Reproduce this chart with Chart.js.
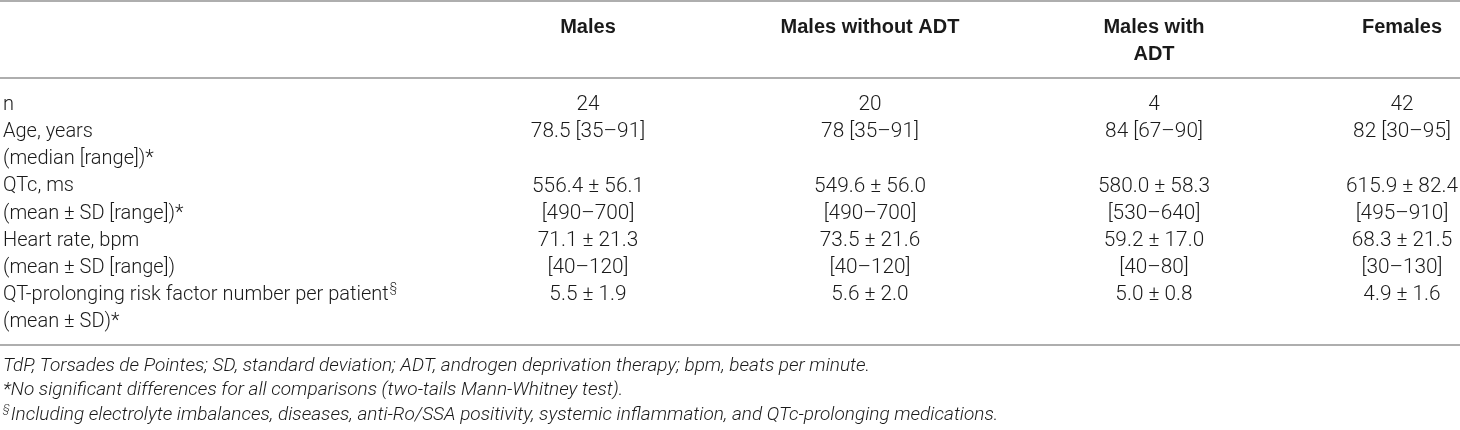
<!DOCTYPE html>
<html>
<head>
<meta charset="utf-8">
<script src="https://cdn.jsdelivr.net/npm/chart.js@4.4.1/dist/chart.umd.min.js"></script>
<style>
  html, body { margin: 0; padding: 0; background: #fff; }
  canvas { display: block; }
</style>
</head>
<body>
<canvas id="tablaQT" width="1460" height="430"></canvas>
<script>
// encabezados de columna (\n = segunda línea)
const columnas = ['Males', 'Males without ADT', 'Males with\nADT', 'Females'];

// filas del cuerpo
const filas = [
    'n',
    'Age, years',
    '(median [range])*',
    'QTc, ms',
    '(mean ± SD [range])*',
    'Heart rate, bpm',
    '(mean ± SD [range])',
    'QT-prolonging risk factor number per patient§',
    '(mean ± SD)*'
];

const males = ['24', '78.5 [35–91]', '', '556.4 ± 56.1', '[490–700]', '71.1 ± 21.3', '[40–120]', '5.5 ± 1.9', ''];
const malesSinADT = ['20', '78 [35–91]', '', '549.6 ± 56.0', '[490–700]', '73.5 ± 21.6', '[40–120]', '5.6 ± 2.0', ''];
const malesConADT = ['4', '84 [67–90]', '', '580.0 ± 58.3', '[530–640]', '59.2 ± 17.0', '[40–80]', '5.0 ± 0.8', ''];
const females = ['42', '82 [30–95]', '', '615.9 ± 82.4', '[495–910]', '68.3 ± 21.5', '[30–130]', '4.9 ± 1.6', ''];

const notas = [
    'TdP, Torsades de Pointes; SD, standard deviation; ADT, androgen deprivation therapy; bpm, beats per minute.',
    '*No significant differences for all comparisons (two-tails Mann-Whitney test).',
    '§Including electrolyte imbalances, diseases, anti-Ro/SSA positivity, systemic inflammation, and QTc-prolonging medications.'
];

const valores = [males, malesSinADT, malesConADT, females];
const centros = [588, 870, 1154, 1402]; // posicion x de cada columna (escala x en px)

const fuenteCuerpo = '"Roboto", "Liberation Sans", sans-serif';
const fuenteTitulo = '"Liberation Sans", Arial, sans-serif';
const colorTexto = '#1a1a1a';
const colorLinea = '#939393';

// escribe texto con un "§" final o inicial como superindice
function escribir(ctx, texto, x, y, fuente) {
    const sup = fuente.replace(/([\d.]+)px/, (m, n) => (n * 0.6).toFixed(1) + 'px');
    const tam = parseFloat(fuente.match(/([\d.]+)px/)[1]);
    if (texto.startsWith('§')) {
        ctx.font = sup;
        ctx.fillText('§', x, y - tam * 0.33);
        const w = ctx.measureText('§').width;
        ctx.font = fuente;
        ctx.fillText(texto.slice(1), x + w + 1, y);
    } else if (texto.endsWith('§')) {
        ctx.font = fuente;
        const base = texto.slice(0, -1);
        ctx.fillText(base, x, y);
        const w = ctx.measureText(base).width;
        ctx.font = sup;
        ctx.fillText('§', x + w + 1, y - tam * 0.33);
    } else {
        ctx.font = fuente;
        ctx.fillText(texto, x, y);
    }
}

const pluginTabla = {
    id: 'pluginTabla',
    afterDatasetsDraw(chart) {
        const ctx = chart.ctx;
        const area = chart.chartArea;
        const xs = chart.scales.x;
        ctx.save();
        ctx.fillStyle = colorTexto;
        ctx.textBaseline = 'middle';

        // lineas horizontales
        ctx.strokeStyle = colorLinea;
        ctx.lineWidth = 1.6;
        [area.top - 104, area.top - 27, area.bottom + 23].forEach(y => {
            ctx.beginPath();
            ctx.moveTo(0, y);
            ctx.lineTo(chart.width, y);
            ctx.stroke();
        });

        // encabezados
        ctx.textAlign = 'center';
        columnas.forEach((col, i) => {
            col.split('\n').forEach((linea, j) => {
                escribir(ctx, linea, xs.getPixelForValue(centros[i]), area.top - 78 + j * 27,
                    `bold 20px ${fuenteTitulo}`);
            });
        });

        // celdas: cada punto del dataset marca la posicion de su texto
        chart.data.datasets.forEach((ds, i) => {
            const meta = chart.getDatasetMeta(i);
            ctx.textAlign = ds.alinear;
            meta.data.forEach((el, j) => {
                const t = ds.data[j].texto;
                if (t) escribir(ctx, t, el.x, el.y, `300 ${ds.tam}px ${fuenteCuerpo}`);
            });
        });

        // notas al pie
        ctx.textAlign = 'left';
        notas.forEach((nota, k) => {
            escribir(ctx, nota, 3, area.bottom + 44 + k * 24.5, `italic 300 19px ${fuenteCuerpo}`);
        });
        ctx.restore();
    }
};

const datasets = [{
    label: 'Variable',
    alinear: 'left',
    tam: 20,
    data: filas.map((f, j) => ({ x: 3, y: j, texto: f }))
}].concat(valores.map((serie, i) => ({
    label: columnas[i],
    alinear: 'center',
    tam: 20.8,
    data: serie.map((v, j) => ({ x: centros[i], y: j, texto: v }))
})));

new Chart(document.getElementById('tablaQT'), {
    type: 'scatter',
    data: { datasets: datasets },
    options: {
        responsive: false,
        animation: false,
        devicePixelRatio: 1,
        layout: { padding: { top: 105, bottom: 108, left: 0, right: 0 } },
        elements: { point: { radius: 0, hoverRadius: 0 } },
        plugins: { legend: { display: false }, tooltip: { enabled: false } },
        scales: {
            x: { type: 'linear', min: 0, max: 1460, display: false },
            y: { type: 'linear', min: 0, max: filas.length - 1, reverse: true, display: false }
        }
    },
    plugins: [pluginTabla]
});
</script>
</body>
</html>
